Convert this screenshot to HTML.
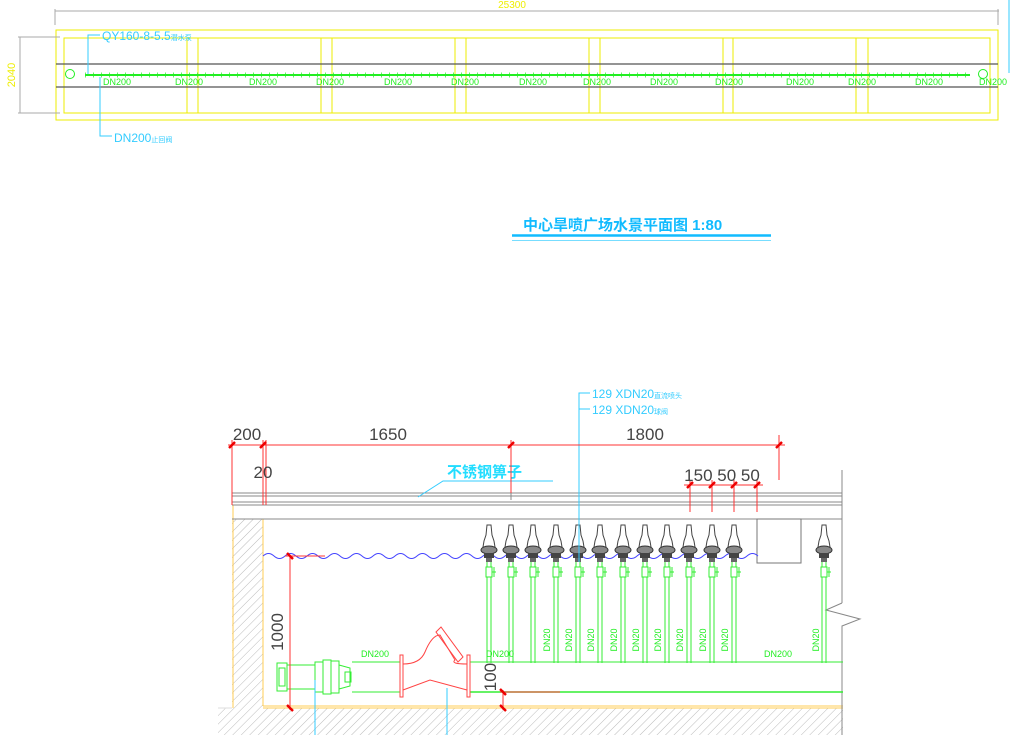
<!DOCTYPE html>
<html><head><meta charset="utf-8"><style>
html,body{margin:0;padding:0;background:#fff;width:1024px;height:735px;overflow:hidden}
svg{display:block}
text{font-family:"Liberation Sans","Noto Sans CJK SC",sans-serif}
</style></head><body>
<svg width="1024" height="735" viewBox="0 0 1024 735" xmlns="http://www.w3.org/2000/svg">
<defs>
<pattern id="hatch" width="6" height="6" patternUnits="userSpaceOnUse" patternTransform="rotate(45)">
<rect width="6" height="6" fill="#fff"/><line x1="0" y1="0" x2="0" y2="6" stroke="#bbb" stroke-width="1"/></pattern>
<g id="noz">
<path d="M-2,-28 L2,-28 L3,-18 L5,-12 L6,-6 L-6,-6 L-5,-12 L-3,-18Z" fill="#fff" stroke="#444" stroke-width="1"/>
<ellipse cx="0" cy="-3" rx="8" ry="4" fill="#888" stroke="#333"/>
<rect x="-5" y="0" width="10" height="5" fill="#444"/>
<rect x="-3" y="5" width="6" height="4" fill="#666"/>
<line x1="-2" y1="9" x2="-2" y2="110" stroke="#3e3" stroke-width="1"/>
<line x1="2" y1="9" x2="2" y2="110" stroke="#3e3" stroke-width="1"/>
<rect x="-3" y="14" width="6" height="10" fill="#fff" stroke="#3e3"/>
<line x1="5" y1="14" x2="5" y2="24" stroke="#3e3"/><line x1="3" y1="19" x2="7" y2="19" stroke="#3e3"/>
</g>
</defs>

<!-- TOP PLAN -->
<line x1="55" y1="11" x2="999" y2="11" stroke="#aaa"/>
<line x1="55" y1="9" x2="55" y2="25" stroke="#aaa"/>
<line x1="998" y1="9" x2="998" y2="25" stroke="#aaa"/>
<text x="512" y="8" font-size="10" fill="#ee0" text-anchor="middle">25300</text>
<line x1="1009" y1="0" x2="1009" y2="73" stroke="#3cf"/>
<rect x="56" y="30" width="942" height="90" fill="none" stroke="#ee0"/>
<rect x="64" y="38" width="926" height="75" fill="none" stroke="#ee0"/>
<g stroke="#ee0">
<line x1="187" y1="38" x2="187" y2="113"/><line x1="198" y1="38" x2="198" y2="113"/>
<line x1="321" y1="38" x2="321" y2="113"/><line x1="332" y1="38" x2="332" y2="113"/>
<line x1="455" y1="38" x2="455" y2="113"/><line x1="466" y1="38" x2="466" y2="113"/>
<line x1="589" y1="38" x2="589" y2="113"/><line x1="600" y1="38" x2="600" y2="113"/>
<line x1="723" y1="38" x2="723" y2="113"/><line x1="733" y1="38" x2="733" y2="113"/>
<line x1="856" y1="38" x2="856" y2="113"/><line x1="868" y1="38" x2="868" y2="113"/>
</g>
<line x1="56" y1="64" x2="998" y2="64" stroke="#555" stroke-width="1.2"/>
<line x1="56" y1="87" x2="998" y2="87" stroke="#555" stroke-width="1.2"/>
<line x1="85" y1="75" x2="970" y2="75" stroke="#2e2" stroke-width="2"/>
<line x1="85" y1="75" x2="970" y2="75" stroke="#2e2" stroke-width="5" stroke-dasharray="1 7" opacity="0.7"/>
<circle cx="70" cy="74" r="4.5" fill="none" stroke="#2e2"/>
<circle cx="983" cy="74" r="4.5" fill="none" stroke="#2e2"/>
<g font-size="9" fill="#2e2" text-anchor="middle">
<text x="117" y="85">DN200</text><text x="189" y="85">DN200</text><text x="263" y="85">DN200</text>
<text x="330" y="85">DN200</text><text x="398" y="85">DN200</text><text x="465" y="85">DN200</text>
<text x="533" y="85">DN200</text><text x="597" y="85">DN200</text><text x="664" y="85">DN200</text>
<text x="729" y="85">DN200</text><text x="800" y="85">DN200</text><text x="862" y="85">DN200</text>
<text x="929" y="85">DN200</text><text x="993" y="85">DN200</text>
</g>
<line x1="20" y1="37" x2="20" y2="113" stroke="#aaa"/>
<line x1="18" y1="37" x2="60" y2="37" stroke="#aaa"/>
<line x1="18" y1="113" x2="60" y2="113" stroke="#aaa"/>
<text x="0" y="0" font-size="11" fill="#ee0" text-anchor="middle" transform="translate(15,75) rotate(-90)">2040</text>
<polyline points="88,74 88,35 100,35" fill="none" stroke="#3cf"/>
<text x="102" y="40" font-size="12" fill="#3cf">QY160-8-5.5<tspan font-size="7">潜水泵</tspan></text>
<polyline points="100,77 100,136 112,136" fill="none" stroke="#3cf"/>
<text x="114" y="142" font-size="12" fill="#3cf">DN200<tspan font-size="7">止回阀</tspan></text>

<!-- TITLE -->
<text x="523" y="230" font-size="15" font-weight="bold" fill="#1bf">中心旱喷广场水景平面图  1:80</text>
<line x1="512" y1="235.5" x2="771" y2="235.5" stroke="#1bf" stroke-width="2.5"/>
<line x1="512" y1="240.5" x2="771" y2="240.5" stroke="#7df" stroke-width="1"/>

<!-- SECTION -->
<rect x="232" y="519" width="31" height="189" fill="url(#hatch)"/>
<rect x="218" y="708" width="625" height="27" fill="url(#hatch)"/>
<line x1="218" y1="708" x2="232" y2="708" stroke="#ddd"/>
<line x1="233" y1="505" x2="233" y2="708" stroke="#fc5"/>
<line x1="263" y1="519" x2="263" y2="706" stroke="#fc5"/>
<line x1="263" y1="706" x2="843" y2="706" stroke="#fc5"/>
<line x1="263" y1="708" x2="843" y2="708" stroke="#fc5"/>
<line x1="842" y1="470" x2="842" y2="603" stroke="#888"/>
<polyline points="842,603 826,610 860,619 842,626 842,735" fill="none" stroke="#888"/>
<g stroke="#888">
<line x1="232" y1="493" x2="842" y2="493"/>
<line x1="232" y1="496" x2="842" y2="496"/>
<line x1="232" y1="502" x2="842" y2="502"/>
<line x1="232" y1="505" x2="842" y2="505"/>
<line x1="232" y1="519" x2="842" y2="519"/>
<line x1="511" y1="493" x2="511" y2="500"/>
</g>
<rect x="757" y="519" width="44" height="44" fill="none" stroke="#777"/>
<!-- water -->
<path d="M263,556 q5.5,-5 11,0 t11,0 t11,0 t11,0 t11,0 t11,0 t11,0 t11,0 t11,0 t11,0 t11,0 t11,0 t11,0 t11,0 t11,0 t11,0 t11,0 t11,0 t11,0 t11,0 t11,0 t11,0 t11,0 t11,0 t11,0 t11,0 t11,0 t11,0 t11,0 t11,0 t11,0 t11,0 t11,0 t11,0 t11,0 t11,0 t11,0 t11,0 t11,0 t11,0 t11,0 t11,0 t11,0 t11,0 t11,0" fill="none" stroke="#44f"/>
<!-- nozzles -->
<use href="#noz" x="489" y="553"/><use href="#noz" x="511" y="553"/><use href="#noz" x="533" y="553"/>
<use href="#noz" x="556" y="553"/><use href="#noz" x="578" y="553"/><use href="#noz" x="600" y="553"/>
<use href="#noz" x="623" y="553"/><use href="#noz" x="645" y="553"/><use href="#noz" x="667" y="553"/>
<use href="#noz" x="689" y="553"/><use href="#noz" x="712" y="553"/><use href="#noz" x="734" y="553"/>
<use href="#noz" x="824" y="553"/>
<g font-size="9" fill="#2e2" text-anchor="middle">
<text transform="translate(550,640) rotate(-90)">DN20</text>
<text transform="translate(572,640) rotate(-90)">DN20</text>
<text transform="translate(594,640) rotate(-90)">DN20</text>
<text transform="translate(617,640) rotate(-90)">DN20</text>
<text transform="translate(639,640) rotate(-90)">DN20</text>
<text transform="translate(661,640) rotate(-90)">DN20</text>
<text transform="translate(683,640) rotate(-90)">DN20</text>
<text transform="translate(706,640) rotate(-90)">DN20</text>
<text transform="translate(728,640) rotate(-90)">DN20</text>
<text transform="translate(819,640) rotate(-90)">DN20</text>
<text x="375" y="657">DN200</text><text x="500" y="657">DN200</text><text x="778" y="657">DN200</text>
</g>
<!-- main pipe -->
<line x1="470" y1="662" x2="843" y2="662" stroke="#3e3"/>
<line x1="470" y1="692" x2="843" y2="692" stroke="#3e3" stroke-width="1.5"/>
<line x1="352" y1="662" x2="400" y2="662" stroke="#3e3"/>
<line x1="352" y1="692" x2="400" y2="692" stroke="#3e3"/>
<!-- pump -->
<g fill="none" stroke="#3e3">
<rect x="277" y="663" width="10" height="28"/><rect x="279" y="668" width="6" height="18"/>
<line x1="287" y1="665" x2="315" y2="665"/><line x1="287" y1="689" x2="315" y2="689"/>
<rect x="315" y="662" width="8" height="30"/><rect x="323" y="660" width="8" height="34"/>
<rect x="331" y="661" width="8" height="32"/><path d="M339,665 L350,668 L350,686 L339,689"/>
<rect x="345" y="672" width="6" height="10"/>
</g>
<!-- strainer -->
<g fill="none" stroke="#f44">
<rect x="400" y="655" width="3" height="42"/><rect x="467" y="655" width="3" height="42"/>
<path d="M403,664 Q420,664 425,652 Q432,635 440,635 L455,660 Q450,664 467,664"/>
<path d="M403,690 L430,680 L467,690"/>
<path d="M436,632 l5,-5 l22,30 l-5,5z"/>
</g>
<!-- cyan leaders -->
<line x1="315" y1="680" x2="315" y2="735" stroke="#3cf"/>
<line x1="447" y1="688" x2="447" y2="735" stroke="#3cf"/>
<polyline points="590,393 579,393 579,562" fill="none" stroke="#3cf"/>
<line x1="579" y1="409" x2="590" y2="409" stroke="#3cf"/>
<text x="592" y="398" font-size="12" fill="#3cf">129 XDN20<tspan font-size="7">直流喷头</tspan></text>
<text x="592" y="414" font-size="12" fill="#3cf">129 XDN20<tspan font-size="7">球阀</tspan></text>
<text x="447" y="477" font-size="15" font-weight="bold" fill="#2df">不锈钢箅子</text>
<polyline points="553,481 443,481 418,497" fill="none" stroke="#3cf"/>
<!-- red dims -->
<g stroke="#f33">
<line x1="228" y1="445" x2="785" y2="445"/>
<line x1="232" y1="440" x2="232" y2="505"/><line x1="263" y1="440" x2="263" y2="505"/>
<line x1="266" y1="440" x2="266" y2="505"/>
<line x1="511" y1="440" x2="511" y2="493"/><line x1="779" y1="435" x2="779" y2="480"/>
<line x1="684" y1="485" x2="763" y2="485"/>
<line x1="690" y1="480" x2="690" y2="512"/><line x1="712" y1="480" x2="712" y2="512"/>
<line x1="734" y1="480" x2="734" y2="512"/><line x1="757" y1="480" x2="757" y2="512"/>
<line x1="290" y1="556" x2="290" y2="710"/>
<line x1="285" y1="556" x2="325" y2="556"/>
<line x1="500" y1="692" x2="560" y2="692"/>
<line x1="503" y1="690" x2="503" y2="710"/>
</g>
<g stroke="#e00" stroke-width="2.5">
<line x1="229" y1="448" x2="235" y2="442"/><line x1="260" y1="448" x2="266" y2="442"/>
<line x1="508" y1="448" x2="514" y2="442"/><line x1="776" y1="448" x2="782" y2="442"/>
<line x1="687" y1="488" x2="693" y2="482"/><line x1="709" y1="488" x2="715" y2="482"/>
<line x1="731" y1="488" x2="737" y2="482"/><line x1="754" y1="488" x2="760" y2="482"/>
<line x1="287" y1="553" x2="293" y2="559"/><line x1="287" y1="705" x2="293" y2="711"/>
<line x1="500" y1="689" x2="506" y2="695"/><line x1="500" y1="705" x2="506" y2="711"/>
</g>
<g font-size="17" fill="#444" text-anchor="middle">
<text x="247" y="440">200</text><text x="388" y="440">1650</text><text x="645" y="440">1800</text>
<text x="263" y="478">20</text>
<text x="722" y="481">150 50 50</text>
<text transform="translate(283,632) rotate(-90)">1000</text>
<text transform="translate(496,677) rotate(-90)">100</text>
</g>
</svg>
</body></html>
